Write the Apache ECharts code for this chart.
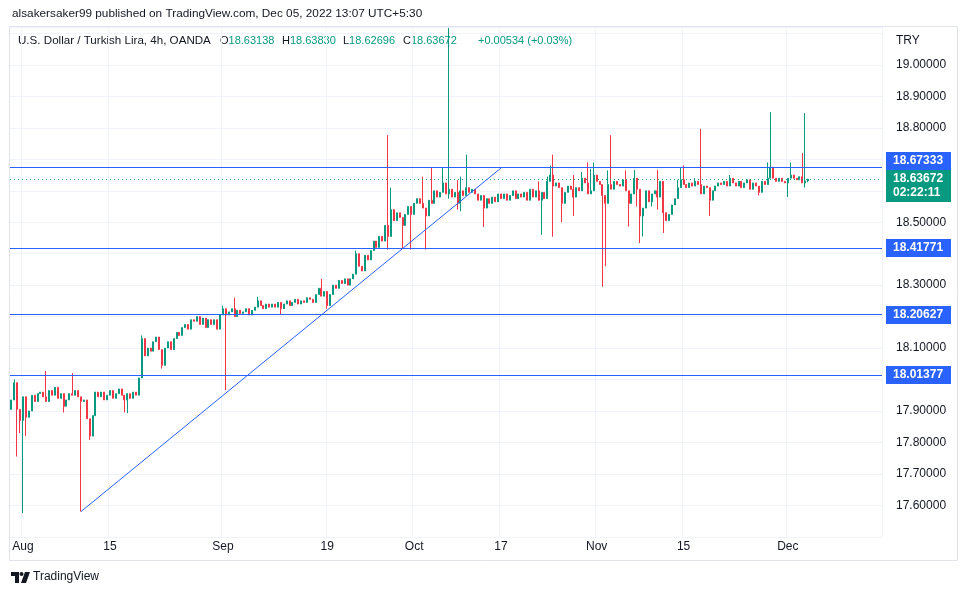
<!DOCTYPE html>
<html>
<head>
<meta charset="utf-8">
<script src="https://cdn.jsdelivr.net/npm/echarts@6/dist/echarts.min.js"></script>
<style>
html,body{margin:0;padding:0;background:#ffffff;}
#c{width:966px;height:595px;}
</style>
</head>
<body>
<div id="c"></div>
<script>
// ---------- DATA ----------
// 8-hour bars, Jul 28 2022 (last bar) .. Dec 05 2022, weekends skipped
const firstOpen = 17.905;
const closes = [
  17.935,17.990,17.905,17.870,17.945,17.880,17.900,17.950,17.930,17.955,
  17.960,17.945,17.930,17.965,17.950,17.975,17.940,17.955,17.915,17.935,
  17.955,17.950,17.965,17.945,17.930,17.935,17.875,17.820,17.885,17.960,
  17.945,17.960,17.935,17.950,17.965,17.940,17.955,17.970,17.950,17.935,
  17.955,17.940,17.960,17.950,18.005,18.130,18.075,18.100,18.090,18.120,
  18.135,18.095,18.045,18.100,18.120,18.095,18.130,18.150,18.140,18.165,
  18.175,18.160,18.190,18.185,18.200,18.175,18.195,18.165,18.190,18.175,
  18.190,18.160,18.205,18.225,18.205,18.215,18.225,18.200,18.220,18.210,
  18.215,18.225,18.205,18.220,18.230,18.250,18.235,18.225,18.240,18.230,
  18.240,18.230,18.245,18.225,18.240,18.250,18.235,18.245,18.255,18.240,
  18.250,18.245,18.260,18.255,18.245,18.270,18.290,18.265,18.280,18.235,
  18.270,18.300,18.290,18.315,18.305,18.320,18.300,18.320,18.335,18.400,
  18.360,18.345,18.395,18.380,18.410,18.440,18.420,18.455,18.440,18.490,
  18.455,18.540,18.505,18.530,18.515,18.490,18.525,18.550,18.525,18.560,
  18.575,18.560,18.545,18.520,18.570,18.560,18.600,18.580,18.595,18.625,
  18.590,18.605,18.580,18.595,18.560,18.600,18.585,18.610,18.595,18.605,
  18.590,18.570,18.585,18.545,18.575,18.560,18.580,18.565,18.590,18.575,
  18.590,18.570,18.585,18.600,18.575,18.590,18.580,18.595,18.570,18.605,
  18.580,18.600,18.570,18.595,18.575,18.630,18.650,18.615,18.625,18.610,
  18.560,18.595,18.615,18.605,18.580,18.610,18.600,18.640,18.625,18.590,
  18.600,18.650,18.630,18.620,18.585,18.560,18.620,18.605,18.630,18.620,
  18.615,18.635,18.600,18.560,18.590,18.640,18.605,18.520,18.545,18.600,
  18.565,18.590,18.600,18.580,18.630,18.530,18.505,18.525,18.555,18.575,
  18.610,18.635,18.620,18.610,18.625,18.615,18.630,18.620,18.590,18.615,
  18.610,18.570,18.600,18.615,18.625,18.620,18.630,18.615,18.640,18.625,
  18.615,18.630,18.610,18.625,18.635,18.605,18.625,18.615,18.595,18.630,
  18.620,18.640,18.675,18.640,18.630,18.640,18.630,18.625,18.640,18.650,
  18.640,18.635,18.645,18.625,18.63138,18.63672
];
// bar index -> wick extreme beyond the body
const wickHighs = {1:18.000,12:18.027,21:18.020,45:18.140,73:18.235,74:18.215,77:18.260,85:18.263,
  107:18.320,119:18.410,130:18.777,131:18.610,142:18.645,145:18.675,149:18.673,151:19.118,154:18.634,
  155:18.645,157:18.715,182:18.630,185:18.645,186:18.680,187:18.715,194:18.650,197:18.660,199:18.690,
  200:18.670,201:18.690,206:18.665,207:18.777,212:18.665,215:18.666,223:18.666,230:18.635,231:18.673,
  232:18.680,236:18.640,238:18.797,248:18.650,261:18.690,262:18.850,269:18.690,273:18.720,274:18.847,275:18.63830};
const wickLows = {2:17.755,3:17.830,4:17.575,5:17.820,18:17.895,24:17.580,27:17.808,39:17.895,40:17.893,
  52:18.035,74:17.966,93:18.205,109:18.225,130:18.413,135:18.418,138:18.413,143:18.413,151:18.575,154:18.540,
  155:18.535,163:18.485,183:18.460,187:18.454,190:18.500,194:18.520,204:18.295,205:18.360,213:18.486,
  216:18.550,217:18.434,218:18.455,221:18.550,223:18.540,225:18.466,241:18.520,258:18.585,268:18.580,
  274:18.610,275:18.62696};
const levelLines = [18.67333, 18.41771, 18.20627, 18.01377];
const lastPrice = 18.63672;
const countdown = '02:22:11';
const trendLine = [['2022-08-09 16:00', 17.580], ['2022-10-17 00:00', 18.6725]];
const xTickDays = ['2022-08-01','2022-08-15','2022-09-01','2022-09-19','2022-10-03','2022-10-17','2022-11-01','2022-11-15','2022-12-01'];
const xTickLabels = ['Aug','15','Sep','19','Oct','17','Nov','15','Dec'];
const yTickLabelsShown = ['19.00000','18.90000','18.80000','18.50000','18.40000','18.30000','18.10000','17.90000','17.80000','17.70000','17.60000'];
const futurePadBars = 25;

// ---------- categories (trading calendar) ----------
const cats = [];
(function(){
  const d = new Date(Date.UTC(2022,6,28));
  const end = Date.UTC(2022,11,5);
  while (d.getTime() <= end) {
    const wd = d.getUTCDay();
    if (wd !== 0 && wd !== 6) {
      const ds = d.toISOString().slice(0,10);
      let hrs = ['00:00','08:00','16:00'];
      if (ds === '2022-07-28') hrs = ['16:00'];
      if (ds === '2022-12-05') hrs = ['00:00','08:00'];
      hrs.forEach(h => cats.push(ds + ' ' + h));
    }
    d.setUTCDate(d.getUTCDate()+1);
  }
  for (let i = 0; i < futurePadBars; i++) cats.push('future ' + i);
})();

// ---------- OHLC table ----------
const ohlc = closes.map((c, i) => {
  const o = i === 0 ? firstOpen : closes[i-1];
  const hi = wickHighs[i] !== undefined ? Math.max(wickHighs[i], o, c) : Math.max(o, c);
  const lo = wickLows[i] !== undefined ? Math.min(wickLows[i], o, c) : Math.min(o, c);
  return [o, c, lo, hi];
});

function tickLabelOf(v) {
  if (typeof v !== 'string' || v.slice(11) !== '00:00') return null;
  const k = xTickDays.indexOf(v.slice(0,10));
  return k < 0 ? null : xTickLabels[k];
}

const FONT = 'Liberation Sans';
const TXT = '#131722';
const GREEN = '#089981';
const RED = '#f23645';
const BLUE = '#2962ff';

const markData = levelLines.map(v => ({
  yAxis: v, lineStyle: {color: BLUE, width: 1, type: 'solid'}
}));
markData.push({yAxis: lastPrice, lineStyle: {color: GREEN, width: 1, type: [1, 3]}});
markData.push([
  {coord: trendLine[0], lineStyle: {color: BLUE, width: 1, type: 'solid'}},
  {coord: trendLine[1]}
]);

function rich(letter, num) {
  return {text: '{a|' + letter + '}{b|' + num + '}',
    rich: {a: {fill: TXT, fontSize: 11, fontFamily: FONT}, b: {fill: GREEN, fontSize: 11, fontFamily: FONT}}};
}

const baseGraphic = [
  {id: 'frame', type: 'rect', z: -1, silent: true, shape: {x: 9.5, y: 26.5, width: 948, height: 534},
    style: {fill: 'none', stroke: '#e0e3eb', lineWidth: 1}},
  {id: 'h1', type: 'text', left: 12, top: 8, style: {text: 'alsakersaker99 published on TradingView.com, Dec 05, 2022 13:07 UTC+5:30', fill: TXT, font: '11.8px "' + FONT + '"'}},
  {id: 'h2', type: 'text', left: 18, top: 35, style: {text: 'U.S. Dollar / Turkish Lira, 4h, OANDA', fill: TXT, font: '11.6px "' + FONT + '"'}},
  {id: 'ho', type: 'text', left: 220, top: 35, style: rich('O', '18.63138')},
  {id: 'hh', type: 'text', left: 282, top: 35, style: rich('H', '18.63830')},
  {id: 'hl', type: 'text', left: 343, top: 35, style: rich('L', '18.62696')},
  {id: 'hc', type: 'text', left: 403, top: 35, style: rich('C', '18.63672')},
  {id: 'hd', type: 'text', left: 478, top: 35, style: {text: '+0.00534 (+0.03%)', fill: GREEN, font: '11px "' + FONT + '"'}},
  {id: 'try', type: 'text', left: 896, top: 35, style: {text: 'TRY', fill: TXT, font: '12px "' + FONT + '"'}},
  {id: 'lg1', type: 'polygon', shape: {points: [[11,572],[19,572],[19,583],[15,583],[15,576],[11,576]]}, style: {fill: TXT}},
  {id: 'lg2', type: 'circle', shape: {cx: 21.5, cy: 574, r: 2}, style: {fill: TXT}},
  {id: 'lg3', type: 'polygon', shape: {points: [[25,572],[30,572],[26,583],[21,583]]}, style: {fill: TXT}},
  {id: 'lgt', type: 'text', left: 33, top: 571, style: {text: 'TradingView', fill: TXT, font: '12px "' + FONT + '"'}}
];

const chart = echarts.init(document.getElementById('c'), null, {renderer: 'canvas'});
chart.setOption({
  animation: false,
  backgroundColor: '#ffffff',
  textStyle: {fontFamily: FONT},
  grid: {left: 10, right: 84, top: 27, bottom: 58.25, containLabel: false},
  xAxis: {
    type: 'category', data: cats, boundaryGap: true,
    axisLine: {show: false}, axisTick: {show: false},
    axisLabel: {
      interval: (i, v) => tickLabelOf(v) !== null,
      formatter: v => tickLabelOf(v) || '',
      color: TXT, fontSize: 12, fontFamily: FONT, margin: 4
    },
    splitLine: {show: true, interval: (i, v) => tickLabelOf(v) !== null, lineStyle: {color: '#f0f3fa', width: 1}}
  },
  yAxis: {
    type: 'value', position: 'right', min: 17.5, max: 19.1208, interval: 0.1, scale: true,
    axisLine: {show: false}, axisTick: {show: false},
    axisLabel: {
      showMaxLabel: false, showMinLabel: false,
      formatter: v => { const s = v.toFixed(5); return yTickLabelsShown.indexOf(s) >= 0 ? s : ''; },
      color: TXT, fontSize: 12, fontFamily: FONT, margin: 14
    },
    splitLine: {show: true, lineStyle: {color: '#f0f3fa', width: 1}}
  },
  series: [{
    type: 'candlestick',
    data: ohlc,
    barWidth: 1.5,
    clip: true,
    itemStyle: {color: GREEN, color0: RED, borderColor: GREEN, borderColor0: RED, borderWidth: 1},
    markLine: {
      silent: true, animation: false, symbol: ['none', 'none'], precision: 5,
      label: {show: false},
      data: markData
    }
  }],
  graphic: baseGraphic
});

// ---------- price tags on the right scale (positioned through the y axis) ----------
const tags = levelLines.map(v => ({value: v, bg: BLUE, lines: [v.toFixed(5)]}));
tags.push({value: lastPrice, bg: GREEN, lines: [lastPrice.toFixed(5), countdown]});
tags.forEach(t => {
  t.h = 2 + 14 * t.lines.length + 2;
  t.cy = chart.convertToPixel({yAxisIndex: 0}, t.value);
});
tags.sort((a, b) => a.cy - b.cy);
for (let i = 0; i < tags.length - 1; i++) {
  const a = tags[i], b = tags[i + 1];
  const need = (a.h + b.h) / 2;
  const gap = b.cy - a.cy;
  if (gap < need) { const s = (need - gap) / 2; a.cy -= s; b.cy += s; }
}
const tagGraphic = [];
tags.forEach((t, i) => {
  const top = Math.round(t.cy - t.h / 2);
  tagGraphic.push({id: 'tagbg' + i, type: 'rect', z: 50, shape: {x: 886, y: top, width: 65, height: t.h}, style: {fill: t.bg}});
  tagGraphic.push({id: 'tagtx' + i, type: 'text', z: 51, left: 893, top: top + 2,
    style: {text: t.lines.join('\n'), fill: '#ffffff', font: 'bold 12px "' + FONT + '"', lineHeight: 14}});
});
chart.setOption({graphic: baseGraphic.concat(tagGraphic)});
</script>
</body>
</html>
